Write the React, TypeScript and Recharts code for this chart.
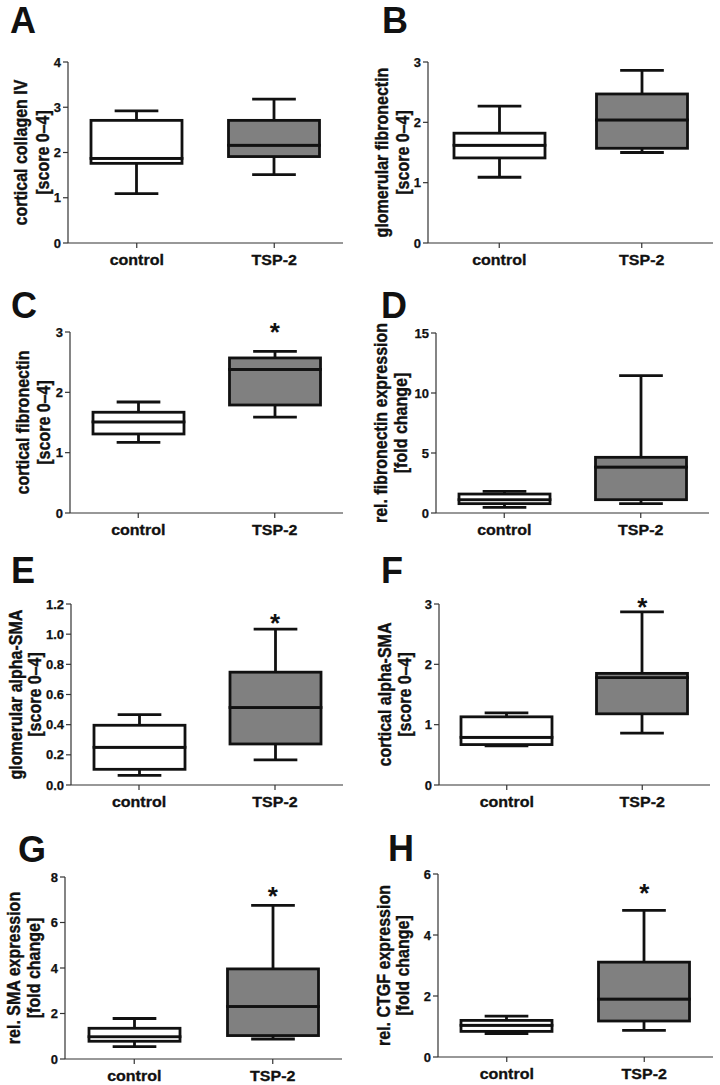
import React from 'react';
import { ComposedChart, Bar, XAxis, YAxis, ReferenceDot } from 'recharts';

const groups = ['control', 'TSP-2'];

// five-number summaries per group: [min, Q1, median, Q3, max]
const collagenCortControl = [1.09, 1.76, 1.87, 2.71, 2.92];
const collagenCortTsp = [1.51, 1.91, 2.16, 2.71, 3.18];
const fibroGlomControl = [1.09, 1.41, 1.62, 1.82, 2.27];
const fibroGlomTsp = [1.5, 1.57, 2.04, 2.47, 2.86];
const fibroCortControl = [1.17, 1.31, 1.51, 1.67, 1.84];
const fibroCortTsp = [1.59, 1.79, 2.38, 2.57, 2.68];
const fibroExprControl = [0.47, 0.78, 1.11, 1.58, 1.8];
const fibroExprTsp = [0.78, 1.11, 3.83, 4.64, 11.44];
const smaGlomControl = [0.064, 0.104, 0.25, 0.396, 0.467];
const smaGlomTsp = [0.166, 0.272, 0.514, 0.748, 1.034];
const smaCortControl = [0.65, 0.67, 0.79, 1.13, 1.195];
const smaCortTsp = [0.86, 1.18, 1.78, 1.85, 2.87];
const smaExprControl = [0.54, 0.78, 0.98, 1.35, 1.78];
const smaExprTsp = [0.88, 1.03, 2.31, 3.96, 6.75];
const ctgfExprControl = [0.77, 0.84, 1.04, 1.2, 1.34];
const ctgfExprTsp = [0.87, 1.18, 1.9, 3.11, 4.81];

// y-axis tick values
const ticksA = [0, 1, 2, 3, 4];
const ticksB = [0, 1, 2, 3];
const ticksC = [0, 1, 2, 3];
const ticksD = [0, 5, 10, 15];
const ticksE = [0, 0.2, 0.4, 0.6, 0.8, 1.0, 1.2];
const ticksF = [0, 1, 2, 3];
const ticksG = [0, 2, 4, 6, 8];
const ticksH = [0, 2, 4, 6];

// significance marker (asterisk) value for TSP-2, null = none
const starA: number | null = null;
const starB: number | null = null;
const starC: number | null = 3.09;
const starD: number | null = null;
const starE: number | null = 1.11;
const starF: number | null = 3.03;
const starG: number | null = 7.4;
const starH: number | null = 5.55;

// y-axis titles
const titleA = ['cortical collagen IV', '[score 0\u20134]'];
const titleB = ['glomerular fibronectin', '[score 0\u20134]'];
const titleC = ['cortical fibronectin', '[score 0\u20134]'];
const titleD = ['rel. fibronectin expression', '[fold change]'];
const titleE = ['glomerular alpha-SMA', '[score 0\u20134]'];
const titleF = ['cortical alpha-SMA', '[score 0\u20134]'];
const titleG = ['rel. SMA expression', '[fold change]'];
const titleH = ['rel. CTGF expression', '[fold change]'];

const FONT = '"Liberation Sans", Arial, Helvetica, sans-serif';
const FILLS: Record<string, string> = { control: '#ffffff', 'TSP-2': '#808080' };
const INK = '#111';
const SW = 2.8;
const SQUASH = 0.89;

function buildRows(c: number[], t: number[]) {
  return [c, t].map((s, i) => ({
    group: groups[i],
    base: s[0],
    lowWhisker: s[1] - s[0],
    lowBox: s[2] - s[1],
    highBox: s[3] - s[2],
    highWhisker: s[4] - s[3],
  }));
}

const Empty = () => <g />;

const LowWhisker = (p: any) => {
  const cx = p.x + p.width / 2;
  const cap = p.width * 0.48;
  const yb = p.y + p.height;
  return (
    <g>
      <line x1={cx} x2={cx} y1={p.y} y2={yb} stroke={INK} strokeWidth={SW} />
      <line x1={cx - cap / 2} x2={cx + cap / 2} y1={yb} y2={yb} stroke={INK} strokeWidth={SW} />
    </g>
  );
};

const HighWhisker = (p: any) => {
  const cx = p.x + p.width / 2;
  const cap = p.width * 0.48;
  return (
    <g>
      <line x1={cx} x2={cx} y1={p.y} y2={p.y + p.height} stroke={INK} strokeWidth={SW} />
      <line x1={cx - cap / 2} x2={cx + cap / 2} y1={p.y} y2={p.y} stroke={INK} strokeWidth={SW} />
    </g>
  );
};

const BoxPart = (p: any) => (
  <rect
    x={p.x}
    y={p.y}
    width={p.width}
    height={p.height}
    fill={FILLS[p.payload.group]}
    stroke={INK}
    strokeWidth={SW}
  />
);

const StarShape = (p: any) => (
  <text x={p.cx} y={p.cy + 14} textAnchor="middle" fontSize={26} fontWeight="bold" fontFamily={FONT} fill={INK}>
    *
  </text>
);

const XTick = (p: any) => (
  <g transform={`translate(${p.x},${p.y + 12}) scale(1,${SQUASH})`}>
    <text
      x={0}
      y={0}
      textAnchor="middle"
      fontSize={16}
      fontWeight="bold"
      fontFamily={FONT}
      fill={INK}
      stroke={INK}
      strokeWidth={0.35}
    >
      {p.payload.value}
    </text>
  </g>
);

type Layout = {
  left: number;
  top: number;
  h: number;
  axisX: number;
  plotTop: number;
  plotBottom: number;
  plotRight: number;
  l1: number;
  l2: number;
  letterX: number;
  letterY: number;
};

const panels = [
  { letter: 'A', c: collagenCortControl, t: collagenCortTsp, ticks: ticksA, star: starA, title: titleA, dec: 0,
    lay: { left: 0, top: 0, h: 270, axisX: 68, plotTop: 62, plotBottom: 243, plotRight: 343, l1: 22, l2: 44, letterX: 10, letterY: 33 } },
  { letter: 'B', c: fibroGlomControl, t: fibroGlomTsp, ticks: ticksB, star: starB, title: titleB, dec: 0,
    lay: { left: 360, top: 0, h: 270, axisX: 428, plotTop: 62, plotBottom: 243, plotRight: 713, l1: 383, l2: 404, letterX: 382, letterY: 33 } },
  { letter: 'C', c: fibroCortControl, t: fibroCortTsp, ticks: ticksC, star: starC, title: titleC, dec: 0,
    lay: { left: 0, top: 270, h: 270, axisX: 70, plotTop: 332, plotBottom: 513, plotRight: 343, l1: 24, l2: 45, letterX: 11, letterY: 318 } },
  { letter: 'D', c: fibroExprControl, t: fibroExprTsp, ticks: ticksD, star: starD, title: titleD, dec: 0,
    lay: { left: 360, top: 270, h: 270, axisX: 436, plotTop: 333, plotBottom: 513, plotRight: 709, l1: 382, l2: 402, letterX: 381, letterY: 318 } },
  { letter: 'E', c: smaGlomControl, t: smaGlomTsp, ticks: ticksE, star: starE, title: titleE, dec: 1,
    lay: { left: 0, top: 540, h: 270, axisX: 71, plotTop: 604, plotBottom: 785, plotRight: 343, l1: 17, l2: 36, letterX: 11, letterY: 583 } },
  { letter: 'F', c: smaCortControl, t: smaCortTsp, ticks: ticksF, star: starF, title: titleF, dec: 0,
    lay: { left: 360, top: 540, h: 270, axisX: 439, plotTop: 604, plotBottom: 785, plotRight: 710, l1: 386, l2: 406, letterX: 381, letterY: 583 } },
  { letter: 'G', c: smaExprControl, t: smaExprTsp, ticks: ticksG, star: starG, title: titleG, dec: 0,
    lay: { left: 0, top: 810, h: 275, axisX: 65, plotTop: 877, plotBottom: 1059, plotRight: 342, l1: 15, l2: 35, letterX: 18, letterY: 862 } },
  { letter: 'H', c: ctgfExprControl, t: ctgfExprTsp, ticks: ticksH, star: starH, title: titleH, dec: 0,
    lay: { left: 360, top: 810, h: 275, axisX: 438, plotTop: 874, plotBottom: 1057, plotRight: 713, l1: 385, l2: 404, letterX: 388, letterY: 861 } },
];

const XH = 24;

function Panel({ p }: { p: typeof panels[number] }) {
  const lay: Layout = p.lay;
  const rows = buildRows(p.c, p.t);
  const maxTick = p.ticks[p.ticks.length - 1];
  return (
    <div style={{ position: 'absolute', left: lay.left, top: lay.top, width: 360, height: lay.h }}>
      <ComposedChart
        width={360}
        height={lay.h}
        data={rows}
        barSize={91}
        margin={{
          top: lay.plotTop - lay.top,
          right: lay.left + 360 - lay.plotRight,
          bottom: lay.h - (lay.plotBottom - lay.top) - XH,
          left: 0,
        }}
      >
        <XAxis
          dataKey="group"
          height={XH}
          tickSize={5}
          tickMargin={5}
          axisLine={{ stroke: '#333', strokeWidth: 1.2 }}
          tickLine={{ stroke: '#333', strokeWidth: 1.2 }}
          tick={XTick}
        />
        <YAxis
          type="number"
          width={lay.axisX - lay.left}
          domain={[0, maxTick]}
          ticks={p.ticks}
          interval={0}
          tickSize={5}
          tickMargin={2}
          tickFormatter={(v: number) => v.toFixed(p.dec)}
          axisLine={{ stroke: '#333', strokeWidth: 1.2 }}
          tickLine={{ stroke: '#333', strokeWidth: 1.2 }}
          tick={{ fontSize: 13, fontWeight: 'bold', fill: INK, fontFamily: FONT, stroke: INK, strokeWidth: 0.25 }}
        />
        <Bar dataKey="base" stackId="s" shape={Empty} isAnimationActive={false} />
        <Bar dataKey="lowWhisker" stackId="s" shape={LowWhisker} isAnimationActive={false} />
        <Bar dataKey="lowBox" stackId="s" shape={BoxPart} isAnimationActive={false} />
        <Bar dataKey="highBox" stackId="s" shape={BoxPart} isAnimationActive={false} />
        <Bar dataKey="highWhisker" stackId="s" shape={HighWhisker} isAnimationActive={false} />
        {p.star != null && (
          <ReferenceDot x="TSP-2" y={p.star} ifOverflow="visible" shape={StarShape} />
        )}
      </ComposedChart>
    </div>
  );
}

export default function App() {
  return (
    <div
      style={{
        position: 'absolute',
        left: 0,
        top: 0,
        width: 720,
        height: 1085,
        background: '#ffffff',
        overflow: 'hidden',
        fontFamily: FONT,
      }}
    >
      {panels.map((p) => (
        <Panel key={p.letter} p={p} />
      ))}
      <svg
        width={720}
        height={1085}
        style={{ position: 'absolute', left: 0, top: 0, pointerEvents: 'none' }}
      >
        {panels.map((p) => {
          const lay = p.lay;
          const cy = (lay.plotTop + lay.plotBottom) / 2;
          return (
            <g key={p.letter}>
              <text x={lay.letterX} y={lay.letterY} fontSize={36} fontWeight="bold" fontFamily={FONT} fill={INK}>
                {p.letter}
              </text>
              {[p.title[0], p.title[1]].map((line, i) => (
                <text
                  key={i}
                  transform={`translate(${(i === 0 ? lay.l1 : lay.l2) + 4.5},${cy}) scale(1,${SQUASH}) rotate(-90)`}
                  textAnchor="middle"
                  fontSize={18}
                  fontWeight="bold"
                  fontFamily={FONT}
                  fill={INK}
                  stroke={INK}
                  strokeWidth={0.4}
                >
                  {line}
                </text>
              ))}
            </g>
          );
        })}
      </svg>
    </div>
  );
}
